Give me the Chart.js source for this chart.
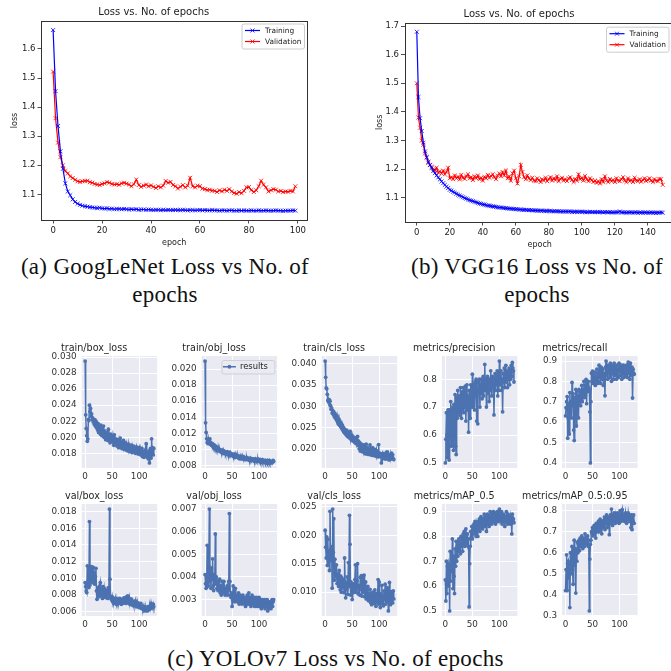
<!DOCTYPE html>
<html lang="en">
<head>
<meta charset="UTF-8" />
<title>Loss vs No. of epochs</title>
<script src="https://cdn.jsdelivr.net/npm/chart.js"></script>
<style>
  html, body { margin: 0; padding: 0; width: 671px; height: 671px; overflow: hidden; background: #fff; }
  canvas { position: absolute; }
  .cap { position: absolute; font-family: "Liberation Serif", serif; font-size: 23px; line-height: 28px;
         color: #111; text-align: center; white-space: nowrap; letter-spacing: 0.3px; }
</style>
</head>
<body>
<div class="cap" style="left:0px; top:253px; width:330px;">(a) GoogLeNet Loss vs No. of<br>epochs</div>
<div class="cap" style="left:372px; top:253px; width:330px;">(b) VGG16 Loss vs No. of<br>epochs</div>
<div class="cap" style="left:0px; top:645px; width:671px;">(c) YOLOv7 Loss vs No. of epochs</div>

<script>
// ---- (a) GoogLeNet, 100 epochs ----
const googTrain = [
  1.665, 1.455, 1.335, 1.248, 1.188, 1.138, 1.110, 1.097, 1.083, 1.074,
  1.068, 1.064, 1.061, 1.059, 1.058, 1.056, 1.055, 1.054, 1.053, 1.054,
  1.052, 1.051, 1.052, 1.050, 1.051, 1.049, 1.050, 1.050, 1.049, 1.050,
  1.049, 1.048, 1.049, 1.048, 1.049, 1.047, 1.048, 1.048, 1.047, 1.048,
  1.047, 1.046, 1.047, 1.047, 1.046, 1.047, 1.046, 1.047, 1.046, 1.046,
  1.047, 1.046, 1.046, 1.047, 1.046, 1.045, 1.046, 1.046, 1.045, 1.046,
  1.046, 1.045, 1.046, 1.045, 1.045, 1.046, 1.045, 1.045, 1.044, 1.045,
  1.045, 1.044, 1.045, 1.045, 1.044, 1.044, 1.045, 1.044, 1.045, 1.044,
  1.044, 1.045, 1.044, 1.044, 1.045, 1.044, 1.044, 1.045, 1.044, 1.044,
  1.044, 1.045, 1.044, 1.044, 1.043, 1.044, 1.044, 1.044, 1.045, 1.044
];
const googVal = [
  1.522, 1.362, 1.278, 1.228, 1.200, 1.180, 1.172, 1.162, 1.156, 1.150,
  1.145, 1.143, 1.145, 1.146, 1.147, 1.142, 1.140, 1.136, 1.134, 1.132,
  1.136, 1.138, 1.142, 1.140, 1.136, 1.134, 1.135, 1.133, 1.138, 1.140,
  1.137, 1.134, 1.128, 1.135, 1.151, 1.132, 1.126, 1.130, 1.134, 1.128,
  1.131, 1.126, 1.122, 1.128, 1.124, 1.130, 1.146, 1.140, 1.143, 1.132,
  1.128, 1.120, 1.126, 1.132, 1.124, 1.130, 1.157, 1.128, 1.124, 1.130,
  1.128, 1.120, 1.118, 1.115, 1.116, 1.113, 1.112, 1.108, 1.114, 1.110,
  1.116, 1.112, 1.118, 1.110, 1.105, 1.102, 1.108, 1.104, 1.112, 1.124,
  1.125, 1.115, 1.108, 1.114, 1.128, 1.147, 1.133, 1.124, 1.110, 1.114,
  1.118, 1.116, 1.110, 1.112, 1.108, 1.110, 1.109, 1.112, 1.110, 1.128
];
const googXTicks = ['0', '20', '40', '60', '80', '100'];
const googYTicks = ['1.1', '1.2', '1.3', '1.4', '1.5', '1.6'];

// ---- (b) VGG16, 150 epochs ----
const vggTrain = [
  1.680, 1.452, 1.378, 1.333, 1.292, 1.262, 1.242, 1.226, 1.214, 1.204,
  1.194, 1.186, 1.178, 1.171, 1.164, 1.157, 1.151, 1.145, 1.139, 1.134,
  1.128, 1.125, 1.121, 1.118, 1.114, 1.111, 1.108, 1.105, 1.102, 1.099,
  1.097, 1.094, 1.092, 1.090, 1.088, 1.086, 1.084, 1.082, 1.080, 1.079,
  1.077, 1.076, 1.074, 1.073, 1.072, 1.071, 1.070, 1.069, 1.068, 1.067,
  1.066, 1.066, 1.065, 1.064, 1.064, 1.063, 1.062, 1.062, 1.061, 1.061,
  1.060, 1.060, 1.059, 1.059, 1.058, 1.058, 1.058, 1.057, 1.057, 1.057,
  1.056, 1.056, 1.056, 1.055, 1.055, 1.055, 1.055, 1.054, 1.054, 1.054,
  1.054, 1.054, 1.053, 1.053, 1.053, 1.053, 1.053, 1.052, 1.052, 1.052,
  1.052, 1.052, 1.052, 1.052, 1.051, 1.051, 1.051, 1.051, 1.051, 1.051,
  1.051, 1.051, 1.050, 1.050, 1.050, 1.051, 1.050, 1.050, 1.050, 1.050,
  1.050, 1.050, 1.050, 1.049, 1.050, 1.050, 1.049, 1.050, 1.049, 1.049,
  1.049, 1.050, 1.049, 1.052, 1.049, 1.049, 1.049, 1.048, 1.049, 1.049,
  1.049, 1.048, 1.049, 1.049, 1.048, 1.049, 1.048, 1.048, 1.049, 1.048,
  1.048, 1.048, 1.049, 1.048, 1.048, 1.047, 1.048, 1.048, 1.049, 1.048
];
const vggVal = [
  1.500, 1.380, 1.345, 1.300, 1.285, 1.255, 1.240, 1.222, 1.215, 1.208,
  1.200, 1.195, 1.205, 1.188, 1.192, 1.185, 1.195, 1.182, 1.190, 1.205,
  1.168, 1.172, 1.165, 1.178, 1.168, 1.174, 1.164, 1.180, 1.170, 1.166,
  1.176, 1.182, 1.168, 1.172, 1.162, 1.175, 1.168, 1.178, 1.165, 1.170,
  1.160, 1.173, 1.168, 1.180, 1.170, 1.176, 1.182, 1.172, 1.165, 1.178,
  1.185, 1.175, 1.190, 1.178, 1.195, 1.168, 1.175, 1.160, 1.185, 1.195,
  1.168, 1.150, 1.175, 1.215, 1.190, 1.172, 1.165, 1.178, 1.168, 1.162,
  1.170, 1.160, 1.158, 1.168, 1.162, 1.155, 1.165, 1.160, 1.170, 1.158,
  1.165, 1.172, 1.160, 1.168, 1.162, 1.175, 1.158, 1.166, 1.170, 1.160,
  1.165, 1.158, 1.168, 1.172, 1.162, 1.155, 1.166, 1.160, 1.182, 1.165,
  1.170, 1.160, 1.176, 1.164, 1.158, 1.168, 1.162, 1.155, 1.160, 1.152,
  1.158, 1.150, 1.165, 1.155, 1.175, 1.160, 1.155, 1.166, 1.158, 1.162,
  1.155, 1.168, 1.160, 1.158, 1.165, 1.172, 1.160, 1.155, 1.168, 1.158,
  1.162, 1.155, 1.170, 1.160, 1.158, 1.165, 1.156, 1.162, 1.168, 1.158,
  1.162, 1.168, 1.160, 1.155, 1.165, 1.160, 1.158, 1.166, 1.165, 1.145
];
const vggXTicks = ['0', '20', '40', '60', '80', '100', '120', '140'];
const vggYTicks = ['1.1', '1.2', '1.3', '1.4', '1.5', '1.6', '1.7'];

// ---- (c) YOLOv7 results, one value per epoch ----
const trainBoxLoss = [
  .0295, .0228, .0211, .0202, .0195, .0198, .0222, .0221, .0240, .0232,
  .0236, .0226, .0229, .0222, .0224, .0219, .0221, .0216, .0222, .0214,
  .0220, .0212, .0218, .0209, .0217, .0206, .0213, .0210, .0204, .0215,
  .0207, .0202, .0211, .0205, .0214, .0200, .0208, .0203, .0197, .0206,
  .0199, .0204, .0196, .0210, .0201, .0198, .0193, .0204, .0199, .0195,
  .0201, .0194, .0199, .0190, .0203, .0196, .0191, .0198, .0193, .0189,
  .0197, .0192, .0187, .0195, .0190, .0199, .0188, .0194, .0186, .0192,
  .0189, .0196, .0185, .0191, .0188, .0193, .0184, .0190, .0187, .0183,
  .0191, .0186, .0189, .0182, .0188, .0185, .0190, .0181, .0187, .0184,
  .0189, .0183, .0186, .0180, .0185, .0188, .0182, .0186, .0179, .0184,
  .0187, .0181, .0185, .0178, .0183, .0186, .0176, .0182, .0179, .0175,
  .0180, .0184, .0177, .0192, .0181, .0175, .0179, .0173, .0183, .0168,
  .0178, .0186, .0174, .0198, .0181, .0187, .0178, .0186
];
const trainObjLoss = [
  .0210, .0133, .0121, .0113, .0108, .0110, .0107, .0112, .0109, .0113,
  .0106, .0108, .0105, .0107, .0104, .0106, .0103, .0105, .0102, .0104,
  .0101, .0103, .0100, .0102, .0099, .0101, .0098, .0100, .0097, .0099,
  .0098, .0096, .0099, .0097, .0095, .0098, .0096, .0097, .0094, .0096,
  .0095, .0097, .0094, .0095, .0093, .0096, .0094, .0092, .0095, .0093,
  .0094, .0092, .0093, .0091, .0094, .0092, .0090, .0093, .0091, .0092,
  .0090, .0092, .0089, .0091, .0090, .0088, .0091, .0089, .0090, .0088,
  .0091, .0089, .0088, .0090, .0087, .0089, .0088, .0090, .0087, .0088,
  .0089, .0087, .0088, .0086, .0089, .0087, .0088, .0086, .0087, .0088,
  .0086, .0087, .0085, .0088, .0086, .0087, .0085, .0086, .0088, .0085,
  .0086, .0085, .0087, .0084, .0086, .0085, .0087, .0084, .0086, .0085,
  .0084, .0086, .0083, .0085, .0084, .0086, .0083, .0085, .0084, .0086,
  .0083, .0085, .0084, .0083, .0085, .0084, .0086, .0085
];
const trainClsLoss = [
  .0406, .0368, .0343, .0341, .0328, .0313, .0316, .0310, .0315, .0312,
  .0302, .0293, .0296, .0284, .0290, .0281, .0287, .0276, .0283, .0272,
  .0279, .0268, .0276, .0263, .0271, .0258, .0268, .0255, .0262, .0251,
  .0258, .0247, .0255, .0243, .0250, .0239, .0246, .0236, .0242, .0233,
  .0244, .0230, .0239, .0228, .0236, .0226, .0241, .0224, .0233, .0221,
  .0230, .0219, .0228, .0223, .0216, .0226, .0214, .0222, .0212, .0220,
  .0229, .0208, .0218, .0200, .0214, .0195, .0212, .0198, .0210, .0193,
  .0206, .0196, .0209, .0191, .0204, .0188, .0211, .0195, .0189, .0202,
  .0187, .0199, .0192, .0209, .0186, .0197, .0190, .0185, .0203, .0188,
  .0194, .0184, .0199, .0187, .0183, .0196, .0186, .0192, .0181, .0210,
  .0185, .0190, .0182, .0187, .0167, .0184, .0189, .0180, .0186, .0177,
  .0183, .0188, .0176, .0191, .0180, .0193, .0178, .0185, .0174, .0184,
  .0179, .0187, .0176, .0190, .0182, .0186, .0177, .0175
];
const precision = [
  .500, .585, .680, .600, .520, .690, .640, .510, .690, .600,
  .720, .560, .690, .610, .700, .545, .710, .640, .745, .560,
  .530, .735, .660, .760, .690, .680, .740, .670, .770, .700,
  .660, .755, .690, .770, .680, .740, .700, .775, .650, .720,
  .780, .690, .740, .610, .760, .700, .660, .780, .720, .700,
  .818, .700, .760, .780, .690, .790, .740, .800, .650, .760,
  .640, .790, .760, .800, .700, .780, .750, .800, .730, .770,
  .810, .740, .790, .853, .760, .800, .700, .770, .810, .750,
  .790, .720, .800, .760, .830, .780, .740, .810, .770, .800,
  .672, .790, .820, .760, .810, .780, .830, .740, .800, .760,
  .865, .800, .780, .830, .760, .800, .683, .820, .790, .840,
  .770, .810, .850, .790, .830, .770, .820, .800, .840, .780,
  .830, .800, .850, .810, .860, .840, .830, .790
];
const recall = [
  .630, .670, .700, .725, .520, .620, .690, .540, .745, .650,
  .700, .620, .795, .680, .740, .560, .508, .720, .640, .760,
  .580, .750, .690, .730, .620, .760, .700, .720, .680, .750,
  .780, .700, .760, .740, .800, .720, .780, .760, .810, .690,
  .790, .750, .800, .770, .760, .650, .398, .700, .840, .800,
  .850, .790, .830, .800, .845, .780, .820, .810, .860, .790,
  .840, .800, .880, .820, .850, .790, .870, .830, .810, .860,
  .780, .840, .820, .729, .870, .900, .830, .860, .810, .880,
  .840, .870, .820, .890, .850, .800, .880, .840, .860, .810,
  .890, .830, .870, .850, .810, .880, .840, .860, .820, .890,
  .850, .870, .830, .880, .810, .860, .840, .880, .820, .850,
  .870, .830, .860, .880, .820, .850, .895, .840, .870, .810,
  .890, .850, .830, .870, .718, .860, .840, .835
];
const valBoxLoss = [
  .0095, .0090, .0085, .0083, .0115, .0092, .0097, .0089, .0168, .0092,
  .0110, .0096, .0114, .0100, .0095, .0113, .0099, .0107, .0093, .0102,
  .0112, .0085, .0075, .0080, .0089, .0082, .0078, .0091, .0095, .0084,
  .0080, .0087, .0076, .0090, .0083, .0088, .0079, .0084, .0077, .0086,
  .0078, .0083, .0076, .0089, .0081, .0183, .0099, .0078, .0076, .0074,
  .0078, .0072, .0075, .0071, .0074, .0070, .0076, .0072, .0069, .0075,
  .0071, .0074, .0070, .0073, .0076, .0071, .0074, .0069, .0073, .0075,
  .0070, .0074, .0071, .0077, .0072, .0075, .0070, .0078, .0073, .0079,
  .0074, .0071, .0076, .0069, .0073, .0070, .0075, .0068, .0072, .0070,
  .0067, .0071, .0069, .0073, .0068, .0070, .0066, .0071, .0068, .0069,
  .0065, .0068, .0066, .0070, .0064, .0067, .0065, .0063, .0066, .0062,
  .0064, .0061, .0065, .0062, .0063, .0061, .0066, .0062, .0064, .0063,
  .0067, .0064, .0070, .0066, .0068, .0065, .0069, .0066
];
const valObjLoss = [
  .0041, .0037, .0035, .0036, .0054, .0040, .0036, .0045, .0070, .0038,
  .0042, .0035, .0044, .0039, .0048, .0036, .0034, .0041, .0037, .0059,
  .0037, .0040, .0035, .0038, .0034, .0038, .0036, .0039, .0033, .0036,
  .0032, .0035, .0038, .0033, .0036, .0038, .0034, .0032, .0035, .0033,
  .0033, .0036, .0032, .0034, .0038, .0068, .0038, .0032, .0031, .0033,
  .0027, .0031, .0036, .0030, .0033, .0029, .0035, .0031, .0030, .0032,
  .0029, .0031, .0033, .0028, .0030, .0032, .0029, .0031, .0028, .0030,
  .0032, .0029, .0031, .0028, .0030, .0027, .0031, .0029, .0032, .0028,
  .0030, .0033, .0028, .0031, .0029, .0027, .0030, .0032, .0028, .0030,
  .0029, .0031, .0027, .0030, .0028, .0031, .0029, .0027, .0030, .0028,
  .0031, .0027, .0029, .0030, .0026, .0028, .0030, .0027, .0029, .0028,
  .0030, .0026, .0028, .0029, .0027, .0030, .0025, .0028, .0026, .0029,
  .0027, .0029, .0026, .0028, .0030, .0027, .0029, .0030
];
const valClsLoss = [
  .0209, .0179, .0160, .0197, .0147, .0193, .0155, .0172, .0138, .0242,
  .0175, .0155, .0180, .0107, .0246, .0170, .0229, .0121, .0158, .0135,
  .0128, .0148, .0115, .0132, .0124, .0110, .0138, .0120, .0104, .0128,
  .0100, .0125, .0113, .0108, .0122, .0099, .0160, .0118, .0090, .0112,
  .0105, .0127, .0096, .0152, .0110, .0235, .0184, .0095, .0118, .0106,
  .0087, .0112, .0099, .0115, .0104, .0122, .0148, .0100, .0108, .0120,
  .0150, .0097, .0112, .0104, .0095, .0126, .0108, .0129, .0093, .0113,
  .0128, .0100, .0130, .0092, .0107, .0118, .0088, .0103, .0095, .0110,
  .0085, .0098, .0090, .0105, .0082, .0096, .0078, .0092, .0100, .0084,
  .0095, .0080, .0104, .0088, .0075, .0098, .0083, .0092, .0122, .0079,
  .0118, .0088, .0073, .0097, .0085, .0112, .0080, .0094, .0076, .0102,
  .0087, .0114, .0079, .0095, .0083, .0108, .0090, .0067, .0084, .0117,
  .0092, .0078, .0101, .0086, .0095, .0081, .0102, .0088
];
const mAP50 = [
  .625, .540, .700, .570, .680, .690, .600, .650, .500, .740,
  .620, .700, .660, .790, .590, .720, .640, .570, .750, .680,
  .780, .700, .760, .720, .780, .790, .740, .770, .730, .800,
  .760, .790, .740, .810, .770, .820, .760, .800, .830, .780,
  .770, .810, .760, .790, .516, .690, .760, .820, .800, .840,
  .790, .840, .820, .850, .810, .860, .830, .800, .850, .840,
  .800, .860, .830, .870, .820, .850, .880, .840, .860, .830,
  .870, .850, .890, .840, .880, .860, .820, .870, .890, .850,
  .880, .840, .870, .900, .860, .890, .850, .880, .870, .900,
  .880, .860, .895, .850, .890, .870, .900, .860, .880, .870,
  .910, .870, .890, .860, .900, .850, .880, .860, .890, .870,
  .840, .880, .860, .900, .870, .850, .890, .860, .880, .870,
  .850, .880, .870, .810, .890, .860, .870, .855
];
const mAP5095 = [
  .420, .520, .590, .420, .550, .560, .480, .530, .339, .600,
  .500, .580, .630, .520, .450, .600, .660, .540, .620, .408,
  .610, .560, .650, .600, .640, .660, .610, .670, .630, .650,
  .680, .640, .620, .670, .650, .630, .690, .660, .640, .670,
  .650, .680, .630, .660, .323, .570, .640, .660, .700, .690,
  .720, .680, .700, .730, .690, .710, .670, .740, .700, .720,
  .710, .750, .700, .730, .760, .710, .740, .690, .750, .720,
  .750, .730, .770, .710, .760, .740, .780, .720, .760, .750,
  .770, .686, .750, .780, .740, .808, .760, .730, .780, .750,
  .790, .760, .740, .780, .770, .750, .790, .760, .780, .740,
  .770, .800, .760, .750, .790, .805, .770, .760, .780, .750,
  .770, .790, .760, .740, .780, .760, .790, .770, .750, .780,
  .760, .720, .780, .710, .770, .750, .780, .740
];

const panelTitles = [
  'train/box_loss', 'train/obj_loss', 'train/cls_loss', 'metrics/precision', 'metrics/recall',
  'val/box_loss', 'val/obj_loss', 'val/cls_loss', 'metrics/mAP_0.5', 'metrics/mAP_0.5:0.95'
];
const panelSeries = [trainBoxLoss, trainObjLoss, trainClsLoss, precision, recall,
                     valBoxLoss, valObjLoss, valClsLoss, mAP50, mAP5095];
const panelYTicks = [
  ['0.018', '0.020', '0.022', '0.024', '0.026', '0.028', '0.030'],
  ['0.008', '0.010', '0.012', '0.014', '0.016', '0.018', '0.020'],
  ['0.020', '0.025', '0.030', '0.035', '0.040'],
  ['0.5', '0.6', '0.7', '0.8'],
  ['0.4', '0.5', '0.6', '0.7', '0.8', '0.9'],
  ['0.006', '0.008', '0.010', '0.012', '0.014', '0.016', '0.018'],
  ['0.003', '0.004', '0.005', '0.006', '0.007'],
  ['0.010', '0.015', '0.020', '0.025'],
  ['0.5', '0.6', '0.7', '0.8', '0.9'],
  ['0.3', '0.4', '0.5', '0.6', '0.7', '0.8']
];
const panelXTicks = ['0', '50', '100'];

// ---------------------------------------------------------------
Chart.defaults.font.family = 'DejaVu Sans';

function padRange(vals) {
  const lo = Math.min(...vals), hi = Math.max(...vals), m = (hi - lo) * 0.05;
  return [lo - m, hi + m];
}
const toXY = ys => ys.map((y, i) => ({ x: i, y }));
const fixedTicks = labels => s => { s.ticks = labels.map(t => ({ value: +t })); };

function addCanvas(box) {
  const c = document.createElement('canvas');
  c.width = box.w; c.height = box.h;
  c.style.left = box.x + 'px'; c.style.top = box.y + 'px';
  document.body.appendChild(c);
  return c;
}

// plot background (seaborn darkgrid)
const panelBg = {
  id: 'panelBg',
  beforeDraw(chart, args, o) {
    if (!o.color) return;
    const { ctx, chartArea: a } = chart;
    ctx.save();
    ctx.fillStyle = o.color;
    ctx.fillRect(a.left, a.top, a.width, a.height);
    ctx.restore();
  }
};
// matplotlib style frame round the axes, and a legend drawn inside it
const frameAndLegend = {
  id: 'frameAndLegend',
  afterDraw(chart, args, o) {
    const { ctx, chartArea: a } = chart;
    ctx.save();
    if (o.frame) {
      ctx.strokeStyle = o.frame; ctx.lineWidth = 1;
      ctx.strokeRect(Math.round(a.left) + 0.5, Math.round(a.top) + 0.5,
                     Math.round(a.width) - 1, Math.round(a.height));
    }
    if (o.legend) {
      const L = o.legend, sets = chart.data.datasets;
      const x0 = a.right - L.right - L.width, y0 = a.top + L.top;
      const h = L.rowH * sets.length + L.padY * 2;
      ctx.fillStyle = L.fill; ctx.strokeStyle = L.edge; ctx.lineWidth = 1;
      ctx.beginPath();
      ctx.roundRect(x0 + 0.5, y0 + 0.5, L.width, h, 2);
      ctx.fill(); ctx.stroke();
      sets.forEach((ds, i) => {
        const cy = y0 + L.padY + L.rowH * (i + 0.5);
        const lx = x0 + L.lineX;
        ctx.strokeStyle = ds.borderColor; ctx.fillStyle = ds.backgroundColor;
        ctx.lineWidth = ds.borderWidth;
        ctx.beginPath(); ctx.moveTo(lx, cy); ctx.lineTo(lx + L.lineLen, cy); ctx.stroke();
        ctx.lineWidth = ds.pointBorderWidth;
        Chart.helpers.drawPoint(ctx, { pointStyle: ds.pointStyle, radius: ds.pointRadius,
                                       borderWidth: ds.pointBorderWidth, rotation: 0 },
                                lx + L.lineLen / 2, cy);
        ctx.fillStyle = '#222'; ctx.font = L.font; ctx.textBaseline = 'middle';
        ctx.fillText(ds.label, lx + L.lineLen + L.gap, cy + 0.5);
      });
    }
    ctx.restore();
  }
};
Chart.register(panelBg, frameAndLegend);

// ---- (a) and (b): matplotlib loss curves ----
// the canvas is as wide on the right of the axes as on the left, so the title centres over them
function lossChart(box, plot, train, val, xTicks, yTicks, yTitlePad, legend) {
  box.w = Math.round(plot.right + (plot.left - box.x) - box.x);
  const el = addCanvas(box);
  const [yMin, yMax] = padRange(train.concat(val));
  const [xMin, xMax] = padRange([0, Math.max(train.length, val.length) - 1]);
  const titleSize = 10, titlePadB = 2.5;
  const titlePadT = plot.top - box.y - titlePadB - titleSize * 1.2;
  const tickGrid = { drawOnChartArea: false, drawTicks: true, tickLength: 3.5, color: '#222', tickColor: '#222', lineWidth: 0.8 };
  const tickFont = { size: 8.5 };
  const mk = (label, ys, color) => ({
    label, data: toXY(ys), borderColor: color, backgroundColor: color, borderWidth: 1.2,
    pointStyle: 'crossRot', pointRadius: 2.8, pointBorderWidth: 0.8, tension: 0
  });
  return new Chart(el, {
    type: 'line',
    data: { datasets: [mk('Training', train, '#0000ff'), mk('Validation', val, '#ff0000')] },
    options: {
      responsive: false, animation: false, events: [],
      layout: { padding: { left: 0, top: 0, bottom: 0, right: box.x + box.w - plot.right } },
      plugins: {
        legend: { display: false }, tooltip: { enabled: false },
        title: { display: true, text: 'Loss vs. No. of epochs', color: '#222',
                 font: { size: titleSize, weight: 'normal' }, padding: { top: titlePadT, bottom: titlePadB } },
        frameAndLegend: { frame: '#333', legend },
        panelBg: {}
      },
      scales: {
        x: {
          type: 'linear', min: xMin, max: xMax,
          afterBuildTicks: fixedTicks(xTicks),
          afterFit: s => { s.height = box.y + box.h - plot.bottom; },
          grid: tickGrid, border: { display: false },
          ticks: { autoSkip: false, maxRotation: 0, padding: 2, color: '#222', font: tickFont,
                   callback: (v, i) => xTicks[i] },
          title: { display: true, text: 'epoch', color: '#222', font: { size: 8 }, padding: { top: 0, bottom: 4 } }
        },
        y: {
          type: 'linear', min: yMin, max: yMax,
          afterBuildTicks: fixedTicks(yTicks),
          afterFit: s => { s.width = plot.left - box.x; },
          grid: tickGrid, border: { display: false },
          ticks: { autoSkip: false, padding: 2, color: '#222', font: tickFont,
                   callback: (v, i) => yTicks[i] },
          title: { display: true, text: 'loss', color: '#222', font: { size: 8 }, padding: { top: yTitlePad, bottom: 0 } }
        }
      }
    }
  });
}

const mainLegend = { right: 3.5, top: 2.5, width: 62.5, rowH: 11, padY: 1.5, lineX: 3.5, lineLen: 15, gap: 5,
                     fill: 'rgba(255,255,255,0.8)', edge: '#cccccc', font: '7.4px "DejaVu Sans"' };

lossChart({ x: 0, y: 0, h: 252 }, { left: 41, top: 21, right: 307.5, bottom: 220 },
          googTrain, googVal, googXTicks, googYTicks, 10, mainLegend);
lossChart({ x: 363, y: 0, h: 254 }, { left: 404.5, top: 22.7, right: 675, bottom: 222 },
          vggTrain, vggVal, vggXTicks, vggYTicks, 12, Object.assign({}, mainLegend, { right: 6.5, top: 4 }));

// ---- (c): YOLOv7 results grid, 2 rows x 5 columns ----
const colLefts = [81.7, 201.6, 321.7, 441.9, 562.1];
const rowTops = [356, 504];
const panelW = 75.5, panelH = 112;

panelSeries.forEach((ys, k) => {
  const plot = { left: colLefts[k % 5], top: rowTops[Math.floor(k / 5)] };
  plot.right = plot.left + panelW; plot.bottom = plot.top + panelH;
  const titleSize = 9.6, titlePadB = 1.8, titlePadT = 1;
  const titleH = titleSize * 1.2 + titlePadB + titlePadT;
  const box = { x: Math.floor(plot.left - 50), y: Math.floor(plot.top - titleH) };
  box.w = Math.ceil(plot.right + 50 - box.x);   // symmetric, title centred over the axes
  box.h = Math.ceil(plot.bottom - box.y + 20);
  const el = addCanvas(box);
  const [yMin, yMax] = padRange(ys);
  const [xMin, xMax] = padRange([0, ys.length - 1]);
  const yTicks = panelYTicks[k];
  const grid = { color: '#ffffff', lineWidth: 1, drawTicks: false };
  const tickFont = { size: 8.8 };
  new Chart(el, {
    type: 'line',
    data: { datasets: [{
      label: 'results', data: toXY(ys), borderColor: '#4c72b0', backgroundColor: '#4c72b0',
      borderWidth: 1.5, pointStyle: 'circle', pointRadius: 1.9, pointBorderWidth: 0, tension: 0
    }] },
    options: {
      responsive: false, animation: false, events: [],
      layout: { padding: { left: 0, bottom: 0, right: box.x + box.w - plot.right,
                           top: plot.top - titleH - box.y } },
      plugins: {
        legend: { display: false }, tooltip: { enabled: false },
        title: { display: true, text: panelTitles[k], color: '#262626',
                 font: { size: titleSize, weight: 'normal' }, padding: { top: titlePadT, bottom: titlePadB } },
        panelBg: { color: '#eaeaf2' },
        frameAndLegend: k === 1 ? {
          legend: { right: 2.7, top: 4, width: 53, rowH: 11.5, padY: 1, lineX: 1.5, lineLen: 13, gap: 4,
                    fill: 'rgba(234,234,242,0.8)', edge: '#cfcfd6', font: '8.4px "DejaVu Sans"' }
        } : {}
      },
      scales: {
        x: {
          type: 'linear', min: xMin, max: xMax,
          afterBuildTicks: fixedTicks(panelXTicks),
          afterFit: s => { s.height = box.y + box.h - plot.bottom; },
          grid, border: { display: false },
          ticks: { autoSkip: false, maxRotation: 0, padding: 3, color: '#333', font: tickFont,
                   callback: (v, i) => panelXTicks[i] }
        },
        y: {
          type: 'linear', min: yMin, max: yMax,
          afterBuildTicks: fixedTicks(yTicks),
          afterFit: s => { s.width = plot.left - box.x; },
          grid, border: { display: false },
          ticks: { autoSkip: false, padding: 5, color: '#333', font: tickFont,
                   callback: (v, i) => yTicks[i] }
        }
      }
    }
  });
});
</script>
</body>
</html>
